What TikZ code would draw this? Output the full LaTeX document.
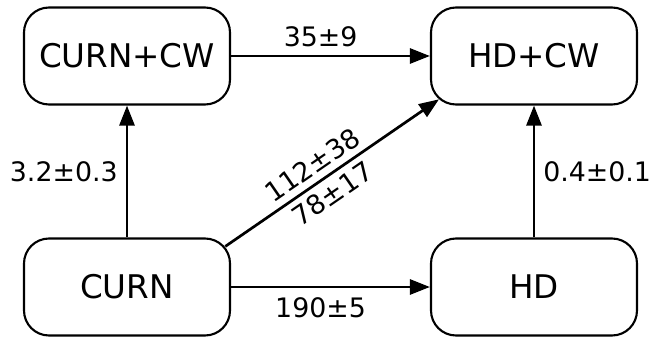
\documentclass[tikz,border=0pt]{standalone}
\usepackage{fontspec}
\setmainfont{DejaVu Sans}
\usetikzlibrary{arrows.meta}
\begin{document}
\begin{tikzpicture}[x=1pt,y=-1pt,
  box/.style={draw, line width=2.1pt, rounded corners=25pt, minimum width=206pt, minimum height=97pt, inner sep=0pt, font={\fontsize{32.6pt}{39pt}\selectfont}},
  edge/.style={line width=2.7pt, -{Triangle[length=20pt,width=15pt]}},
  lbl/.style={inner sep=0pt, font={\fontsize{26.8pt}{35pt}\selectfont}}]
\useasboundingbox (0,0) rectangle (654,337);
\node[box] (CURNCW) at (127,56) {CURN+CW};
\node[box] (HDCW) at (534,56) {HD+CW};
\node[box] (CURN) at (127,287) {CURN};
\node[box] (HD) at (534,287) {HD};
\draw[edge] (CURNCW) -- node[lbl, above=8pt, pos=0.45] {35±9} (HDCW);
\draw[edge] (CURN) -- node[lbl, below=9pt, pos=0.45] {190±5} (HD);
\draw[edge] (CURN) -- node[lbl, left=8pt] {3.2±0.3} (CURNCW);
\draw[edge] (HD) -- node[lbl, right=8pt] {0.4±0.1} (HDCW);
\draw[edge, shorten <=-7pt, shorten >=-11pt] ([yshift=-5pt]CURN.north east) -- node[lbl, sloped, align=center, pos=0.46] {112±38\\78±17} (HDCW.south west);
\end{tikzpicture}
\end{document}
